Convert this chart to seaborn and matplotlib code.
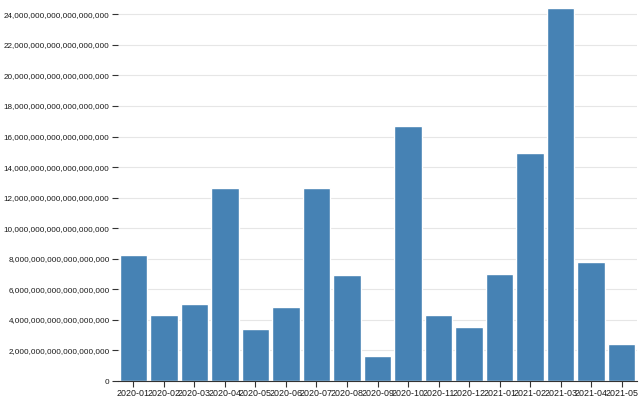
import matplotlib
matplotlib.use("Agg")
import matplotlib.pyplot as plt
from matplotlib.ticker import MultipleLocator, FuncFormatter
import pandas as pd
import seaborn as sns

months = ["2020-01", "2020-02", "2020-03", "2020-04", "2020-05", "2020-06",
          "2020-07", "2020-08", "2020-09", "2020-10", "2020-11", "2020-12",
          "2021-01", "2021-02", "2021-03", "2021-04", "2021-05"]
# totals in units of 1e18
totals = [8.22, 4.31, 5.07, 12.63, 3.39, 4.85,
          12.60, 6.95, 1.64, 16.70, 4.32, 3.56,
          7.00, 14.93, 24.41, 7.80, 2.43]
y_title = "Total of Volume"

df = pd.DataFrame({"month": months, "total": [v * 1e18 for v in totals]})

sns.set_style("white")
plt.rcParams['font.family'] = ['Liberation Sans', 'DejaVu Sans']

fig = plt.figure(figsize=(6.4, 4.0), dpi=100)
ax = fig.add_axes([118 / 640, 19 / 400, 519 / 640, 373 / 400])

sns.barplot(data=df, x="month", y="total", color="#4682b4", saturation=1,
            width=0.9, ax=ax, zorder=2)

ax.set_ylim(0, df["total"].max())
ax.set_xlim(-0.5, len(months) - 0.5)
ax.yaxis.set_major_locator(MultipleLocator(2e18))
ax.yaxis.set_major_formatter(FuncFormatter(
    lambda v, p: f"{int(round(v / 1e15)) * 10**15:,}"))
ax.grid(axis="y", color="#e6e6e6", linewidth=0.8, zorder=0)
ax.set_axisbelow(True)

for s in ["top", "right", "left"]:
    ax.spines[s].set_visible(False)
ax.spines["bottom"].set_color("#333333")
ax.tick_params(axis="both", direction="out", length=4.5, width=0.8,
               bottom=True, left=True,
               color="#333333", labelcolor="#1a1a1a", pad=1.5)
ax.tick_params(axis="y", labelsize=5.9)
ax.tick_params(axis="x", labelsize=6.4)
ax.set_xlabel("")
ax.set_ylabel("")

fig.text(0.005, 1.004, y_title, fontsize=5.9, color="#555555",
         ha="left", va="center")

fig.savefig("out.png", dpi=100)
